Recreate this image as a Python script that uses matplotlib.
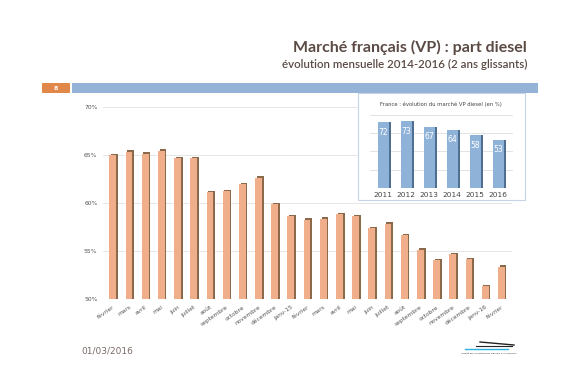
import matplotlib
matplotlib.use("Agg")
import matplotlib.pyplot as plt
from matplotlib.patches import Rectangle
import numpy as np

months = ["février", "mars", "avril", "mai", "juin", "juillet", "août",
          "septembre", "octobre", "novembre", "décembre", "janv-15",
          "février", "mars", "avril", "mai", "juin", "juillet", "août",
          "septembre", "octobre", "novembre", "décembre", "janv-16", "février"]
share = [65.1, 65.5, 65.3, 65.6, 64.8, 64.8, 61.3, 61.4, 62.1, 62.8, 60.0,
         58.8, 58.4, 58.5, 59.0, 58.75, 57.5, 58.0, 56.8, 55.3, 54.2, 54.8,
         54.3, 51.5, 53.5]
y_ticks = [50, 55, 60, 65, 70]

years = ["2011", "2012", "2013", "2014", "2015", "2016"]
year_share = [72, 73, 67, 64, 58, 53]

W, H = 588, 384
fig = plt.figure(figsize=(W / 100, H / 100), dpi=100)
fig.patch.set_facecolor("white")

def fx(px):
    return px / W

def fy(py):
    return 1 - py / H

title_col = "#5b4a44"
fig.text(fx(527), fy(47), "Marché français (VP) : part diesel", ha="right", va="center",
         fontsize=11.5, fontweight="bold", color=title_col, family="Lato")
fig.text(fx(527), fy(64), "évolution mensuelle 2014-2016 (2 ans glissants)", ha="right",
         va="center", fontsize=8.3, fontweight="semibold", color=title_col, family="Lato")

# header bars
fig.patches.append(Rectangle((fx(42), fy(93)), fx(28), 10 / H, transform=fig.transFigure,
                             facecolor="#e2874a", edgecolor="none"))
fig.text(fx(56), fy(88), "8", ha="center", va="center", fontsize=4.5, color="white",
         fontweight="bold")
fig.patches.append(Rectangle((fx(72), fy(93)), fx(466), 10 / H, transform=fig.transFigure,
                             facecolor="#95b3d7", edgecolor="none"))

# main chart
ax = fig.add_axes([fx(103), fy(299), fx(409), 192 / H])
x = np.arange(len(share))
bw = 0.42
base = 50
heights = [v - base for v in share]
ax.bar(x + 0.1, heights, bw, bottom=base, color="#8a6a4a", zorder=2)
ax.bar(x, heights, bw, bottom=base - 0.15, color="#f0ae8a", zorder=3)
ax.set_ylim(50, 70)
ax.set_xlim(-0.6, 24.65)
ax.set_yticks(y_ticks)
ax.set_yticklabels([f"{v}%" for v in y_ticks], fontsize=4.3, color="#555555")
ax.set_xticks(x)
ax.set_xticklabels(months, rotation=35, ha="right", rotation_mode="anchor",
                   fontsize=4.2, color="#555555")
ax.tick_params(length=0, pad=4)
ax.grid(axis="y", color="#e6e6e6", linewidth=0.7, zorder=0)
for s in ax.spines.values():
    s.set_visible(False)
ax.set_facecolor("none")

# inset box
fig.patches.append(Rectangle((fx(358), fy(200)), fx(167), 107 / H, transform=fig.transFigure,
                             facecolor="white", edgecolor="#c5d3e6", linewidth=0.8, zorder=5))
fig.text(fx(441), fy(104), "France : évolution du marché VP diesel (en %)", ha="center",
         va="center", fontsize=3.8, color="#444444", zorder=6)

ax2 = fig.add_axes([fx(370), fy(188), fx(143), 74 / H], zorder=6)
xi = np.arange(len(year_share))
ax2.bar(xi + 0.12, year_share, 0.48, color="#4f6f90", zorder=2)
ax2.bar(xi, year_share, 0.48, color="#8fb2d9", zorder=3)
for xx, v in zip(xi, year_share):
    ax2.text(xx, v - 11, str(v), ha="center", va="center", fontsize=5.5, color="white", zorder=4)
ax2.set_ylim(0, 81)
ax2.set_xlim(-0.57, 5.65)
ax2.set_yticks([0, 20, 40, 60, 80])
ax2.set_yticklabels([])
ax2.set_xticks(xi)
ax2.set_xticklabels(years, fontsize=5.3, color="#444444")
ax2.tick_params(length=0, pad=3)
ax2.grid(axis="y", color="#e3e3e3", linewidth=0.7, zorder=0)
for s in ax2.spines.values():
    s.set_visible(False)
ax2.set_facecolor("none")

# footer
fig.text(fx(81), fy(351), "01/03/2016", ha="left", va="center", fontsize=6.5,
         color="#7a6a66")
fig.lines.append(plt.Line2D([fx(465), fx(508)], [fy(349), fy(349)], transform=fig.transFigure,
                            color="#2ab0e0", linewidth=1))
fig.lines.append(plt.Line2D([fx(480), fx(514)], [fy(342), fy(345)], transform=fig.transFigure,
                            color="#222222", linewidth=1))
fig.lines.append(plt.Line2D([fx(476), fx(512)], [fy(346), fy(346)], transform=fig.transFigure,
                            color="#222222", linewidth=0.8))
fig.text(fx(489), fy(353), "Comité des Constructeurs Français d'Automobiles", ha="center",
         va="center", fontsize=1.6, color="#222222")

fig.savefig("out.png", dpi=100)
